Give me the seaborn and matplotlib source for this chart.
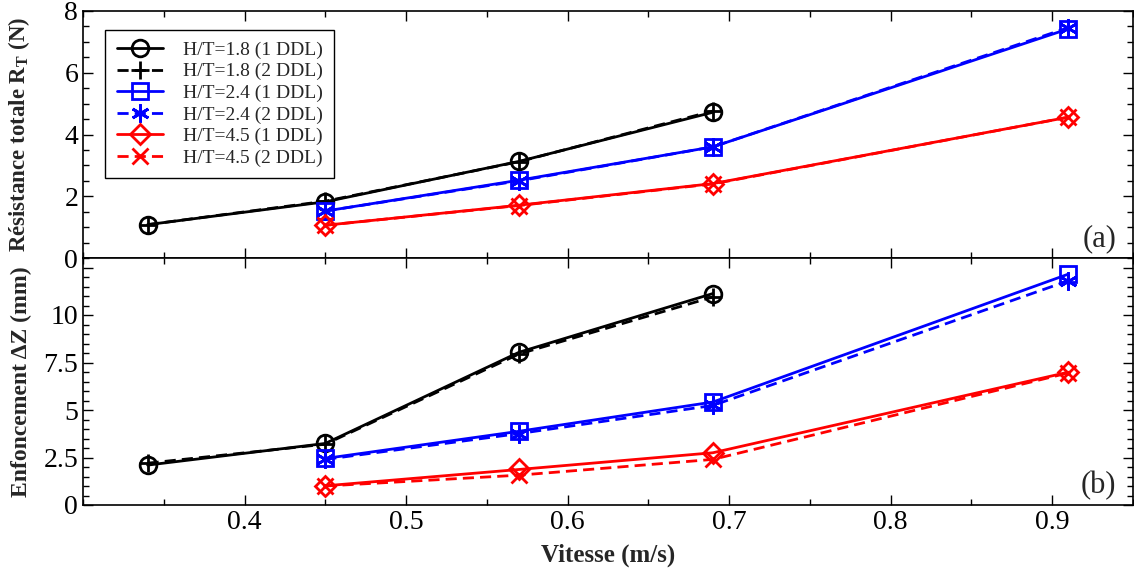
import numpy as np
import pandas as pd
import matplotlib
matplotlib.use("Agg")
import matplotlib.pyplot as plt
from matplotlib.ticker import MultipleLocator, FixedLocator, FuncFormatter
import seaborn as sns


# Data
vitesse_18 = [0.34, 0.45, 0.57, 0.69]
vitesse_24 = [0.45, 0.57, 0.69, 0.91]
vitesse_45 = [0.45, 0.57, 0.69, 0.91]

# total resistance R_T (N)
rt_18_1 = [1.08, 1.82, 3.13, 4.72]
rt_18_2 = [1.08, 1.84, 3.12, 4.76]
rt_24_1 = [1.52, 2.52, 3.60, 7.42]
rt_24_2 = [1.52, 2.50, 3.60, 7.46]
rt_45_1 = [1.06, 1.71, 2.41, 4.56]
rt_45_2 = [1.06, 1.70, 2.40, 4.56]

# sinkage dZ (mm)
dz_18_1 = [2.10, 3.24, 8.04, 11.13]
dz_18_2 = [2.20, 3.20, 7.95, 10.95]
dz_24_1 = [2.45, 3.88, 5.42, 12.15]
dz_24_2 = [2.40, 3.76, 5.24, 11.80]
dz_45_1 = [1.01, 1.87, 2.75, 6.99]
dz_45_2 = [1.00, 1.57, 2.40, 6.95]

labels = ["H/T=1.8 (1 DDL)", "H/T=1.8 (2 DDL)",
          "H/T=2.4 (1 DDL)", "H/T=2.4 (2 DDL)",
          "H/T=4.5 (1 DDL)", "H/T=4.5 (2 DDL)"]

# Build one long table
rows = []
series = [
    (labels[0], vitesse_18, rt_18_1, dz_18_1),
    (labels[1], vitesse_18, rt_18_2, dz_18_2),
    (labels[2], vitesse_24, rt_24_1, dz_24_1),
    (labels[3], vitesse_24, rt_24_2, dz_24_2),
    (labels[4], vitesse_45, rt_45_1, dz_45_1),
    (labels[5], vitesse_45, rt_45_2, dz_45_2),
]
for name, xs, rts, dzs in series:
    for x, r, d in zip(xs, rts, dzs):
        rows.append({"Serie": name, "Vitesse": x, "RT": r, "DZ": d})
df = pd.DataFrame(rows)

# style for each series
asterisk = (6, 2, 0)
styles = {
    labels[0]: dict(color="black", marker="o", ls="-", ms=12),
    labels[1]: dict(color="black", marker="+", ls="--", ms=13),
    labels[2]: dict(color="#0000ff", marker="s", ls="-", ms=12),
    labels[3]: dict(color="#0000ff", marker=asterisk, ls="--", ms=13),
    labels[4]: dict(color="#ff0000", marker="D", ls="-", ms=10),
    labels[5]: dict(color="#ff0000", marker="x", ls="--", ms=11),
}

sns.set_style("ticks")
plt.rcParams["font.family"] = ["Liberation Serif", "DejaVu Serif"]
plt.rcParams["mathtext.fontset"] = "custom"
plt.rcParams["mathtext.rm"] = "Liberation Serif"
plt.rcParams["mathtext.bf"] = "Liberation Serif:bold"
plt.rcParams["lines.dashed_pattern"] = (4.0, 2.2)

fig, (ax1, ax2) = plt.subplots(2, 1, figsize=(11.34, 5.68), dpi=100, sharex=True)
fig.subplots_adjust(left=83 / 1134, right=0.999, top=1 - 11 / 568,
                    bottom=1 - 505 / 568, hspace=0)

for ax, col in [(ax1, "RT"), (ax2, "DZ")]:
    for name in labels:
        st = styles[name]
        sub = df[df["Serie"] == name]
        sns.lineplot(data=sub, x="Vitesse", y=col, ax=ax, color=st["color"],
                     linestyle=st["ls"], marker=st["marker"], markersize=st["ms"],
                     markerfacecolor="none", markeredgecolor=st["color"],
                     markeredgewidth=2, linewidth=2, label=name, sort=False,
                     legend=False)

for ax in (ax1, ax2):
    ax.set_xlim(0.3, 0.95)
    ax.xaxis.set_major_locator(FixedLocator([0.4, 0.5, 0.6, 0.7, 0.8, 0.9]))
    ax.xaxis.set_minor_locator(MultipleLocator(0.05))
    ax.tick_params(which="both", direction="in", top=True, right=True,
                   labelsize=20, colors="black")
    ax.tick_params(which="major", length=7, width=1)
    ax.tick_params(which="minor", length=4, width=1)
    for sp in ax.spines.values():
        sp.set_linewidth(1.2)
        sp.set_color("black")

ax1.set_ylim(0, 8)
ax1.yaxis.set_major_locator(MultipleLocator(2))
ax1.yaxis.set_minor_locator(MultipleLocator(0.5))
ax1.set_xlabel("")
ax1.set_ylabel("Résistance totale R$_\\mathbf{T}$ (N)", fontsize=16.5,
               fontweight="bold")

ax2.set_ylim(0, 13)
ax2.yaxis.set_major_locator(FixedLocator([0, 2.5, 5, 7.5, 10, 12.5]))
ax2.yaxis.set_minor_locator(MultipleLocator(0.5))
ax2.yaxis.set_major_formatter(FuncFormatter(lambda v, p: "" if v > 11 else f"{v:g}"))
ax2.xaxis.set_major_formatter(FuncFormatter(lambda v, p: f"{v:.1f}"))
ax2.set_xlabel("Vitesse (m/s)", fontsize=18, fontweight="bold", labelpad=6)
ax2.set_ylabel("Enfoncement ΔZ (mm)", fontsize=17, fontweight="bold")

ax1.yaxis.set_label_coords(-0.049, 0.5)
ax2.yaxis.set_label_coords(-0.049, 0.5)

ax1.text(0.984, 0.02, "(a)", transform=ax1.transAxes, ha="right",
         va="bottom", fontsize=22)
ax2.text(0.984, 0.02, "(b)", transform=ax2.transAxes, ha="right",
         va="bottom", fontsize=22)

handles, labs = ax1.get_legend_handles_labels()
leg = ax1.legend(handles, labs, loc="upper left", bbox_to_anchor=(0.021, 0.925),
                 borderaxespad=0, fontsize=14, frameon=True, fancybox=False,
                 edgecolor="black", framealpha=1, handlelength=2.4,
                 labelspacing=0.2, handletextpad=1.0, borderpad=0.6)
leg.get_frame().set_linewidth(1)

fig.savefig("out.png", dpi=100)
